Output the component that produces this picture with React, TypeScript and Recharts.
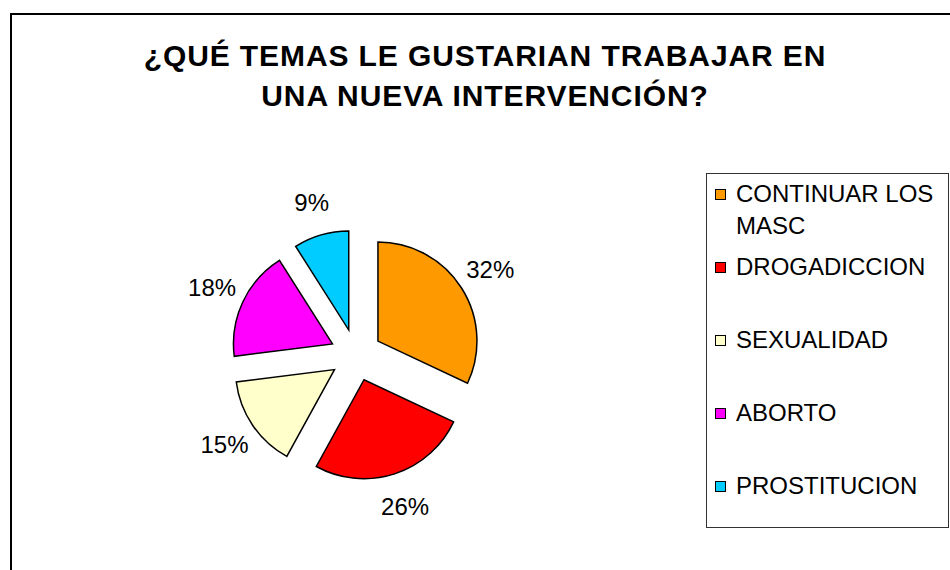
import { PieChart, Pie, Sector, Legend } from 'recharts'

const temas = ['CONTINUAR LOS MASC', 'DROGADICCION', 'SEXUALIDAD', 'ABORTO', 'PROSTITUCION']
const porcentajes = [32, 26, 15, 18, 9]
const colores = ['#FF9900', '#FF0000', '#FFFFCC', '#FF00FF', '#00CCFF']

const data = temas.map((name, i) => ({ name, value: porcentajes[i], fill: colores[i] }))

const RADIAN = Math.PI / 180
const EXPLODE = 26
const font = "'Liberation Sans', Arial, sans-serif"

// each slice pushed out from the centre along its mid angle
const ExplodedSector = (props: any) => {
  const { cx, cy, midAngle } = props
  const dx = EXPLODE * Math.cos(-midAngle * RADIAN)
  const dy = EXPLODE * Math.sin(-midAngle * RADIAN)
  return <Sector {...props} cx={cx + dx} cy={cy + dy} />
}

const renderLabel = (props: any) => {
  const { cx, cy, midAngle, percent } = props
  const r = 159
  const x = cx + r * Math.cos(-midAngle * RADIAN)
  const y = cy + r * Math.sin(-midAngle * RADIAN)
  return (
    <text x={x} y={y} textAnchor="middle" dominantBaseline="central" fill="#000"
      style={{ fontFamily: font, fontSize: 24 }}>
      {`${Math.round(percent * 100)}%`}
    </text>
  )
}

// keep legend in the data order, not alphabetical
const renderLegend = (props: any) => {
  const payload = [...(props.payload || [])].sort(
    (a: any, b: any) => temas.indexOf(a.value) - temas.indexOf(b.value)
  )
  return (
    <div style={{ boxSizing: 'border-box', width: 243, height: 355, border: '1px solid #333', background: '#fff', paddingTop: 4, fontFamily: font, fontSize: 24 }}>
      {payload.map((entry: any) => (
        <div key={entry.value} style={{ display: 'flex', alignItems: 'flex-start', height: 73 }}>
          <div style={{ width: 11, height: 11, boxSizing: 'border-box', border: '1px solid #000', background: entry.color, marginLeft: 8, marginTop: 11, marginRight: 10, flexShrink: 0 }} />
          <div style={{ width: 208, lineHeight: '32px', color: '#000' }}>{entry.value}</div>
        </div>
      ))}
    </div>
  )
}

export default function App() {
  return (
    <div style={{ position: 'fixed', left: 0, top: 0, width: 950, height: 570, overflow: 'hidden', background: '#fff' }}>
      <div style={{ position: 'absolute', left: 10, top: 13, width: 980, height: 620, border: '2px solid #000' }} />
      <div style={{ position: 'absolute', left: 0, top: 36, width: 970, textAlign: 'center', fontFamily: font, fontWeight: 'bold', fontSize: 30, lineHeight: '40px', letterSpacing: 0.9 }}>
        ¿QUÉ TEMAS LE GUSTARIAN TRABAJAR EN<br />UNA NUEVA INTERVENCIÓN?
      </div>
      <div style={{ position: 'absolute', left: 0, top: 0 }}>
        <PieChart width={950} height={570} margin={{ top: 0, right: 0, bottom: 0, left: 0 }}>
          <Pie
            data={data}
            dataKey="value"
            nameKey="name"
            cx={356}
            cy={355}
            outerRadius={99}
            startAngle={90}
            endAngle={-270}
            stroke="#000"
            strokeWidth={1.5}
            shape={ExplodedSector}
            label={renderLabel}
            labelLine={false}
            isAnimationActive={false}
          />
          <Legend
            layout="vertical"
            align="right"
            verticalAlign="top"
            content={renderLegend}
            wrapperStyle={{ left: 706, top: 173, width: 243, height: 355 }}
          />
        </PieChart>
      </div>
    </div>
  )
}
